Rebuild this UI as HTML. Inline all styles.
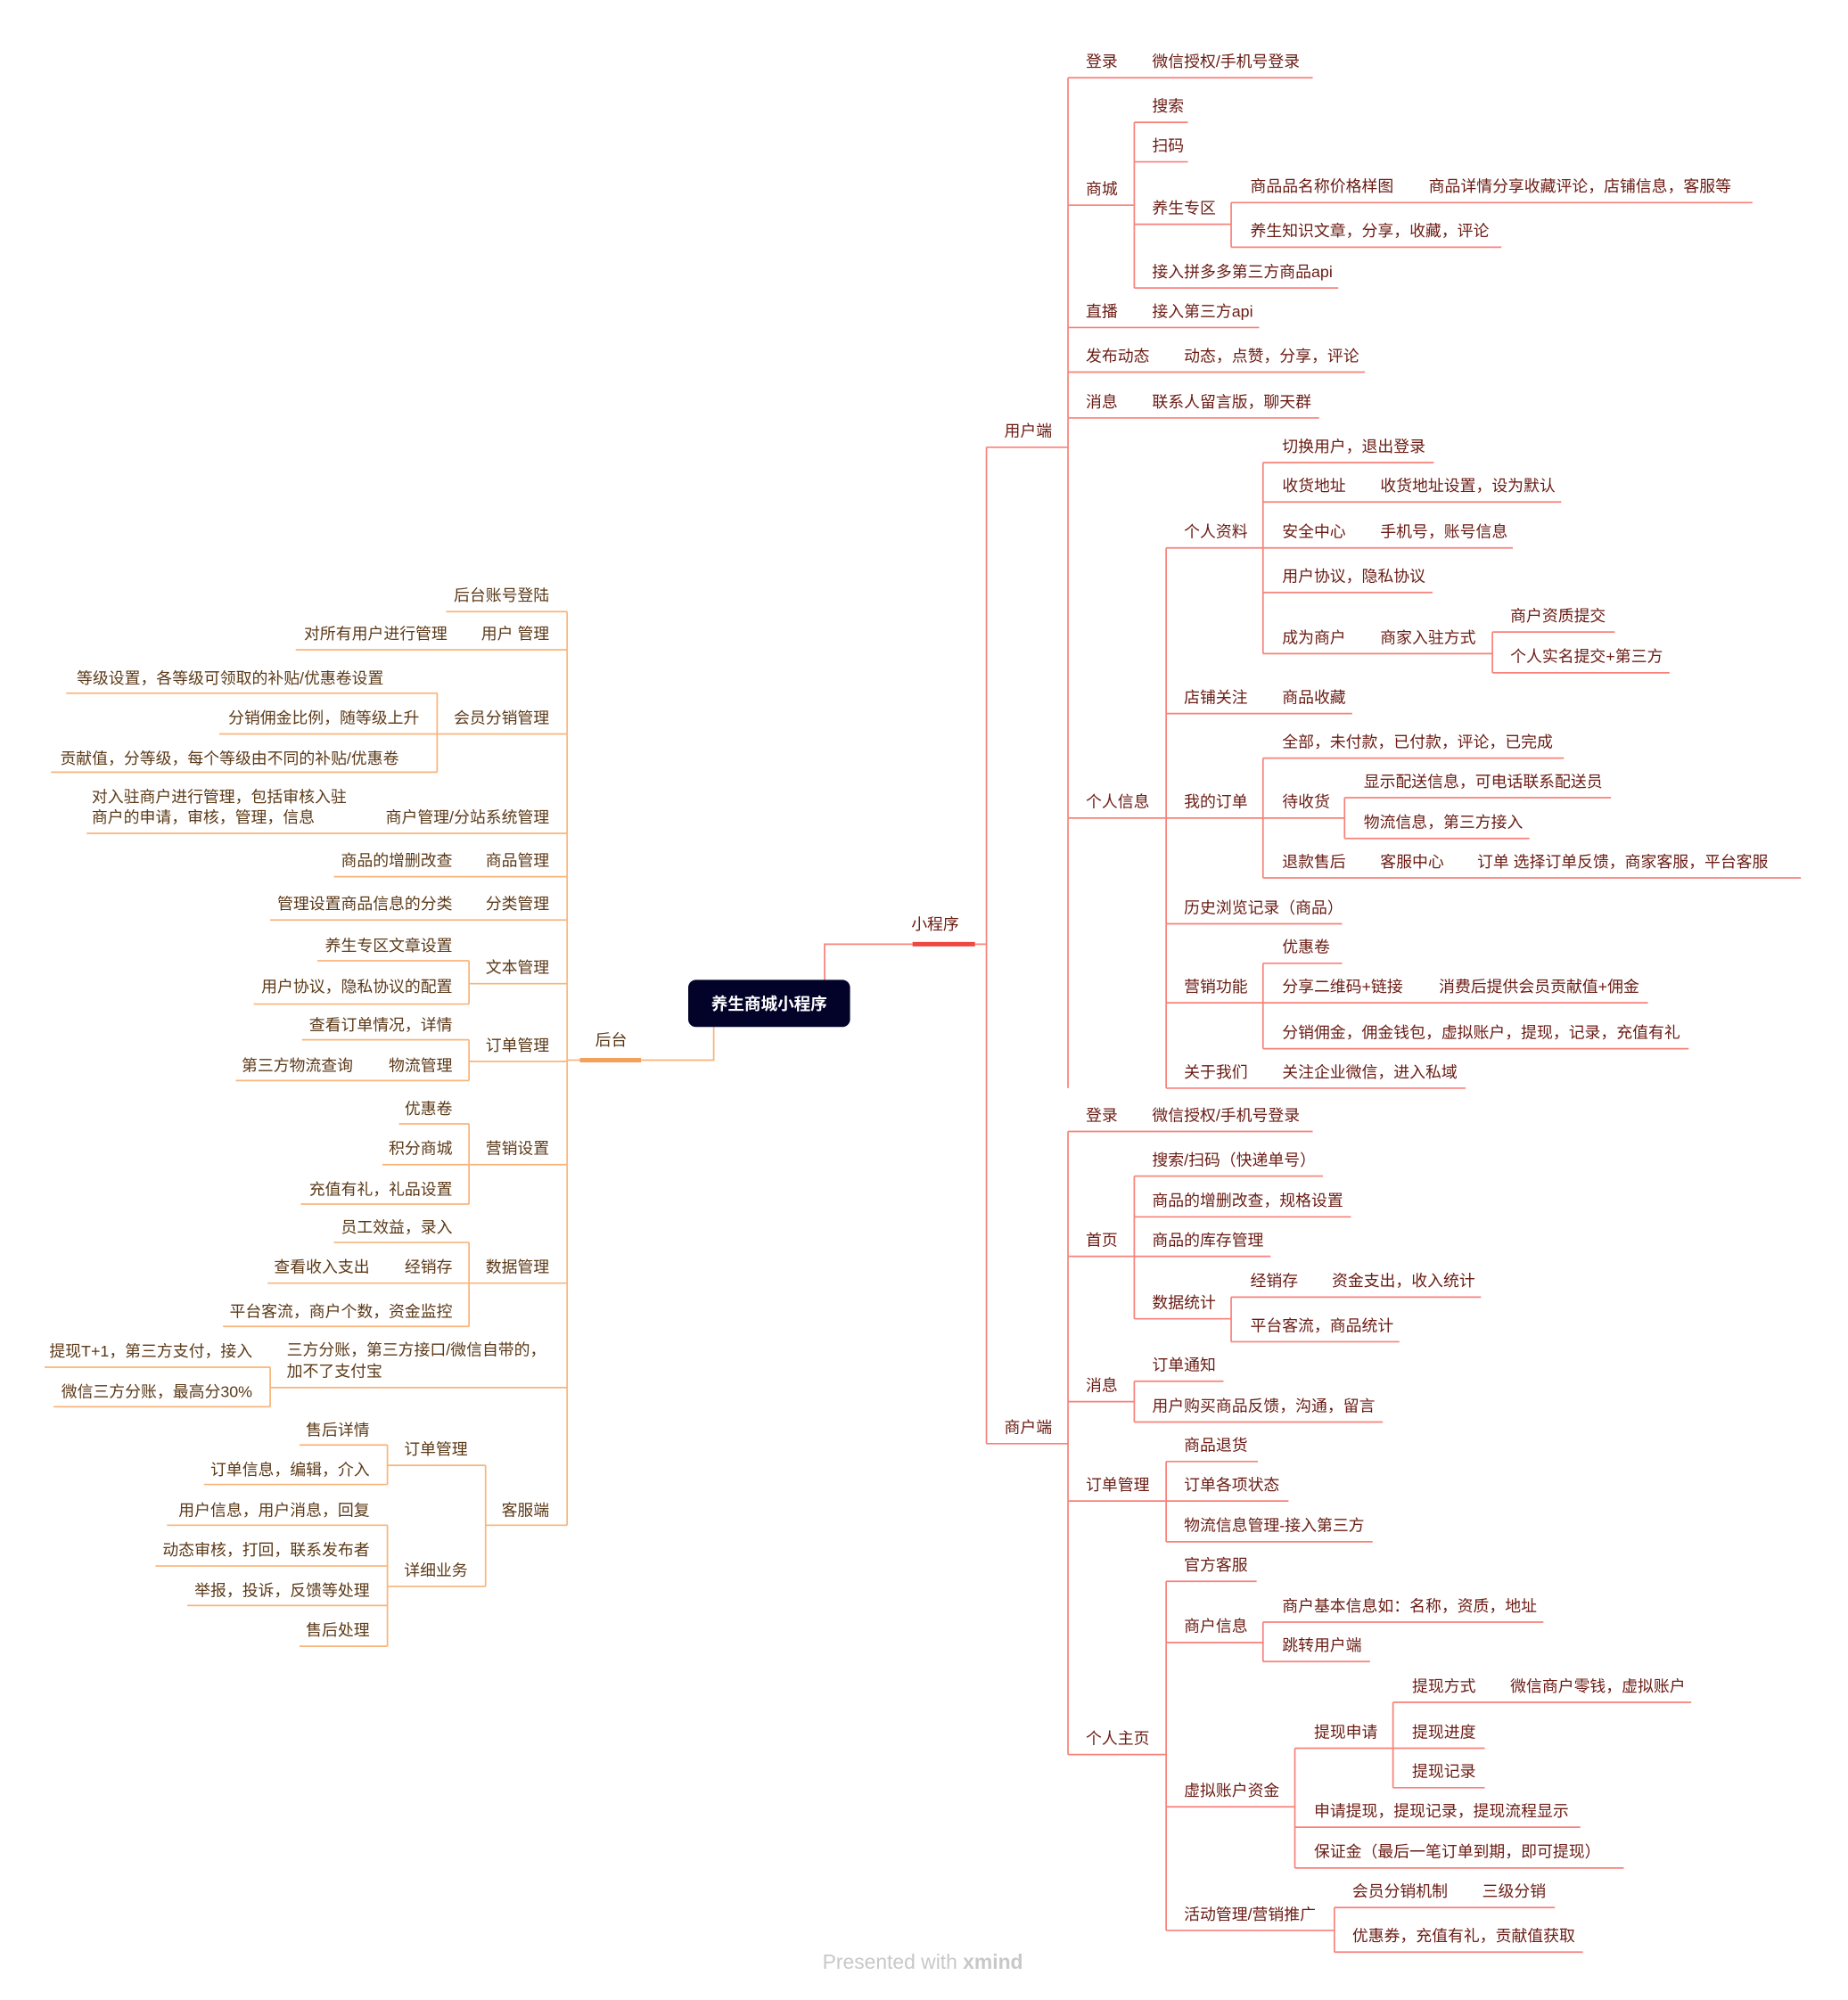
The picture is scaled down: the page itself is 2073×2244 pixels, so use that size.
<!DOCTYPE html>
<html><head><meta charset="utf-8"><style>
html,body{margin:0;padding:0;background:#fff;}
svg{display:block;}
text{font-family:"Liberation Sans","Noto Sans CJK SC",sans-serif;font-size:12.5px;}
.r line,.r path{stroke:#f8817a;stroke-width:1.2;fill:none;}
.r text{fill:#6b1c14;}
.l line,.l path{stroke:#f9b47a;stroke-width:1.2;fill:none;}
.l text{fill:#5c3a18;text-anchor:end;}
</style></head><body>
<svg width="2073" height="2244" viewBox="0 0 1450 1569.6" preserveAspectRatio="none" xmlns="http://www.w3.org/2000/svg">
<rect x="0" y="0" width="1450" height="1570" fill="#fff"/>
<!-- root -->
<path d="M647 769 V741 H716" stroke="#f8817a" stroke-width="1.2" fill="none"/>
<path d="M560 806 V832 H503" stroke="#f9b47a" stroke-width="1.2" fill="none"/>
<rect x="540" y="769" width="127" height="37" rx="6" fill="#03032a"/>
<text x="603.5" y="792.5" text-anchor="middle" fill="#fff" style="font-weight:bold;font-size:13px">养生商城小程序</text>

<g class="r">
<text x="715" y="729.5">小程序</text>
<line x1="716" y1="741" x2="765" y2="741" style="stroke:#f0473e;stroke-width:3.5"/>
<line x1="765" y1="741" x2="774" y2="741"/>
<line x1="774" y1="351" x2="774" y2="1133"/>
<!-- 用户端 -->
<text x="788" y="342.5">用户端</text>
<line x1="774" y1="351" x2="838" y2="351"/>
<line x1="838" y1="61" x2="838" y2="854"/>
<text x="852" y="52.5">登录</text><text x="904" y="52.5">微信授权/手机号登录</text>
<line x1="838" y1="61" x2="1030" y2="61"/>
<text x="852" y="152.5">商城</text>
<line x1="838" y1="161" x2="890" y2="161"/>
<line x1="890" y1="96" x2="890" y2="226"/>
<text x="904" y="87.5">搜索</text><line x1="890" y1="96" x2="932" y2="96"/>
<text x="904" y="118.5">扫码</text><line x1="890" y1="127" x2="932" y2="127"/>
<text x="904" y="167.5">养生专区</text><line x1="890" y1="176" x2="966" y2="176"/>
<line x1="966" y1="159" x2="966" y2="194"/>
<text x="981" y="150.5">商品品名称价格样图</text><text x="1121" y="150.5">商品详情分享收藏评论，店铺信息，客服等</text>
<line x1="966" y1="159" x2="1375" y2="159"/>
<text x="981" y="185.5">养生知识文章，分享，收藏，评论</text><line x1="966" y1="194" x2="1178" y2="194"/>
<text x="904" y="217.5">接入拼多多第三方商品api</text><line x1="890" y1="226" x2="1050" y2="226"/>
<text x="852" y="248.5">直播</text><text x="904" y="248.5">接入第三方api</text><line x1="838" y1="257" x2="988" y2="257"/>
<text x="852" y="283.5">发布动态</text><text x="929" y="283.5">动态，点赞，分享，评论</text><line x1="838" y1="292" x2="1071" y2="292"/>
<text x="852" y="319.5">消息</text><text x="904" y="319.5">联系人留言版，聊天群</text><line x1="838" y1="328" x2="1035" y2="328"/>
<!-- 个人信息 -->
<text x="852" y="633.5">个人信息</text><line x1="838" y1="642" x2="915" y2="642"/>
<line x1="915" y1="430" x2="915" y2="854"/>
<text x="929" y="421.5">个人资料</text><line x1="915" y1="430" x2="991" y2="430"/>
<line x1="991" y1="363" x2="991" y2="513"/>
<text x="1006" y="354.5">切换用户，退出登录</text><line x1="991" y1="363" x2="1125" y2="363"/>
<text x="1006" y="385.5">收货地址</text><text x="1083" y="385.5">收货地址设置，设为默认</text><line x1="991" y1="394" x2="1225" y2="394"/>
<text x="1006" y="421.5">安全中心</text><text x="1083" y="421.5">手机号，账号信息</text><line x1="991" y1="430" x2="1187" y2="430"/>
<text x="1006" y="456.5">用户协议，隐私协议</text><line x1="991" y1="465" x2="1124" y2="465"/>
<text x="1006" y="504.5">成为商户</text><text x="1083" y="504.5">商家入驻方式</text><line x1="991" y1="513" x2="1171" y2="513"/>
<line x1="1171" y1="496" x2="1171" y2="528"/>
<text x="1185" y="487.5">商户资质提交</text><line x1="1171" y1="496" x2="1267" y2="496"/>
<text x="1185" y="519.5">个人实名提交+第三方</text><line x1="1171" y1="528" x2="1310" y2="528"/>
<text x="929" y="551.5">店铺关注</text><text x="1006" y="551.5">商品收藏</text><line x1="915" y1="560" x2="1061" y2="560"/>
<text x="929" y="633.5">我的订单</text><line x1="915" y1="642" x2="991" y2="642"/>
<line x1="991" y1="595" x2="991" y2="689"/>
<text x="1006" y="586.5">全部，未付款，已付款，评论，已完成</text><line x1="991" y1="595" x2="1227" y2="595"/>
<text x="1006" y="633.5">待收货</text><line x1="991" y1="642" x2="1055" y2="642"/>
<line x1="1055" y1="626" x2="1055" y2="658"/>
<text x="1070" y="617.5">显示配送信息，可电话联系配送员</text><line x1="1055" y1="626" x2="1264" y2="626"/>
<text x="1070" y="649.5">物流信息，第三方接入</text><line x1="1055" y1="658" x2="1200" y2="658"/>
<text x="1006" y="680.5">退款售后</text><text x="1083" y="680.5">客服中心</text><text x="1159" y="680.5">订单 选择订单反馈，商家客服，平台客服</text>
<line x1="991" y1="689" x2="1413" y2="689"/>
<text x="929" y="716.5">历史浏览记录（商品）</text><line x1="915" y1="725" x2="1053" y2="725"/>
<text x="929" y="778.5">营销功能</text><line x1="915" y1="787" x2="991" y2="787"/>
<line x1="991" y1="756" x2="991" y2="823"/>
<text x="1006" y="747.5">优惠卷</text><line x1="991" y1="756" x2="1053" y2="756"/>
<text x="1006" y="778.5">分享二维码+链接</text><text x="1129" y="778.5">消费后提供会员贡献值+佣金</text><line x1="991" y1="787" x2="1293" y2="787"/>
<text x="1006" y="814.5">分销佣金，佣金钱包，虚拟账户，提现，记录，充值有礼</text><line x1="991" y1="823" x2="1325" y2="823"/>
<text x="929" y="845.5">关于我们</text><text x="1006" y="845.5">关注企业微信，进入私域</text><line x1="915" y1="854" x2="1150" y2="854"/>
<!-- 商户端 -->
<text x="788" y="1124.5">商户端</text><line x1="774" y1="1133" x2="838" y2="1133"/>
<line x1="838" y1="888" x2="838" y2="1377"/>
<text x="852" y="879.5">登录</text><text x="904" y="879.5">微信授权/手机号登录</text><line x1="838" y1="888" x2="1030" y2="888"/>
<text x="852" y="977.5">首页</text><line x1="838" y1="986" x2="890" y2="986"/>
<line x1="890" y1="923" x2="890" y2="1035"/>
<text x="904" y="914.5">搜索/扫码（快递单号）</text><line x1="890" y1="923" x2="1038" y2="923"/>
<text x="904" y="946.5">商品的增删改查，规格设置</text><line x1="890" y1="955" x2="1060" y2="955"/>
<text x="904" y="977.5">商品的库存管理</text><line x1="890" y1="986" x2="997" y2="986"/>
<text x="904" y="1026.5">数据统计</text><line x1="890" y1="1035" x2="966" y2="1035"/>
<line x1="966" y1="1018" x2="966" y2="1053"/>
<text x="981" y="1009.5">经销存</text><text x="1045" y="1009.5">资金支出，收入统计</text><line x1="966" y1="1018" x2="1162" y2="1018"/>
<text x="981" y="1044.5">平台客流，商品统计</text><line x1="966" y1="1053" x2="1098" y2="1053"/>
<text x="852" y="1091.5">消息</text><line x1="838" y1="1100" x2="890" y2="1100"/>
<line x1="890" y1="1084" x2="890" y2="1116"/>
<text x="904" y="1075.5">订单通知</text><line x1="890" y1="1084" x2="960" y2="1084"/>
<text x="904" y="1107.5">用户购买商品反馈，沟通，留言</text><line x1="890" y1="1116" x2="1085" y2="1116"/>
<text x="852" y="1169.5">订单管理</text><line x1="838" y1="1178" x2="915" y2="1178"/>
<line x1="915" y1="1147" x2="915" y2="1210"/>
<text x="929" y="1138.5">商品退货</text><line x1="915" y1="1147" x2="987" y2="1147"/>
<text x="929" y="1169.5">订单各项状态</text><line x1="915" y1="1178" x2="1011" y2="1178"/>
<text x="929" y="1201.5">物流信息管理-接入第三方</text><line x1="915" y1="1210" x2="1077" y2="1210"/>
<text x="852" y="1368.5">个人主页</text><line x1="838" y1="1377" x2="915" y2="1377"/>
<line x1="915" y1="1241" x2="915" y2="1515"/>
<text x="929" y="1232.5">官方客服</text><line x1="915" y1="1241" x2="986" y2="1241"/>
<text x="929" y="1280.5">商户信息</text><line x1="915" y1="1289" x2="991" y2="1289"/>
<line x1="991" y1="1273" x2="991" y2="1304"/>
<text x="1006" y="1264.5">商户基本信息如：名称，资质，地址</text><line x1="991" y1="1273" x2="1211" y2="1273"/>
<text x="1006" y="1295.5">跳转用户端</text><line x1="991" y1="1304" x2="1075" y2="1304"/>
<text x="929" y="1409.5">虚拟账户资金</text><line x1="915" y1="1418" x2="1016" y2="1418"/>
<line x1="1016" y1="1372" x2="1016" y2="1466"/>
<text x="1031" y="1363.5">提现申请</text><line x1="1016" y1="1372" x2="1093" y2="1372"/>
<line x1="1093" y1="1336" x2="1093" y2="1403"/>
<text x="1108" y="1327.5">提现方式</text><text x="1185" y="1327.5">微信商户零钱，虚拟账户</text><line x1="1093" y1="1336" x2="1327" y2="1336"/>
<text x="1108" y="1363.5">提现进度</text><line x1="1093" y1="1372" x2="1165" y2="1372"/>
<text x="1108" y="1394.5">提现记录</text><line x1="1093" y1="1403" x2="1165" y2="1403"/>
<text x="1031" y="1425.5">申请提现，提现记录，提现流程显示</text><line x1="1016" y1="1434" x2="1240" y2="1434"/>
<text x="1031" y="1457.5">保证金（最后一笔订单到期，即可提现）</text><line x1="1016" y1="1466" x2="1274" y2="1466"/>
<text x="929" y="1506.5">活动管理/营销推广</text><line x1="915" y1="1515" x2="1047" y2="1515"/>
<line x1="1047" y1="1497" x2="1047" y2="1532"/>
<text x="1061" y="1488.5">会员分销机制</text><text x="1163" y="1488.5">三级分销</text><line x1="1047" y1="1497" x2="1220" y2="1497"/>
<text x="1061" y="1523.5">优惠券，充值有礼，贡献值获取</text><line x1="1047" y1="1532" x2="1242" y2="1532"/>
</g>

<g class="l">
<text x="492" y="820.5">后台</text>
<line x1="455" y1="832" x2="503" y2="832" style="stroke:#f5a05a;stroke-width:3.5"/>
<line x1="445" y1="832" x2="455" y2="832"/>
<line x1="445" y1="480" x2="445" y2="1197"/>
<text x="431" y="471.5">后台账号登陆</text><line x1="350" y1="480" x2="445" y2="480"/>
<text x="431" y="501.5">用户 管理</text><text x="351" y="501.5">对所有用户进行管理</text><line x1="232" y1="510" x2="445" y2="510"/>
<text x="431" y="567.5">会员分销管理</text><line x1="343" y1="576" x2="445" y2="576"/>
<line x1="343" y1="544" x2="343" y2="606"/>
<text x="301" y="536.5">等级设置，各等级可领取的补贴/优惠卷设置</text><line x1="52" y1="544" x2="343" y2="544"/>
<text x="329" y="567.5">分销佣金比例，随等级上升</text><line x1="172" y1="576" x2="343" y2="576"/>
<text x="313" y="599.5">贡献值，分等级，每个等级由不同的补贴/优惠卷</text><line x1="40" y1="606" x2="343" y2="606"/>
<text x="431" y="645.5">商户管理/分站系统管理</text>
<text x="72" y="629.5" style="text-anchor:start">对入驻商户进行管理，包括审核入驻</text>
<text x="72" y="645.5" style="text-anchor:start">商户的申请，审核，管理，信息</text>
<line x1="68" y1="654" x2="445" y2="654"/>
<text x="431" y="679.5">商品管理</text><text x="355" y="679.5">商品的增删改查</text><line x1="262" y1="688" x2="445" y2="688"/>
<text x="431" y="713.5">分类管理</text><text x="355" y="713.5">管理设置商品信息的分类</text><line x1="212" y1="722" x2="445" y2="722"/>
<text x="431" y="763.5">文本管理</text><line x1="368" y1="772" x2="445" y2="772"/>
<line x1="368" y1="754" x2="368" y2="788"/>
<text x="355" y="746.5">养生专区文章设置</text><line x1="249" y1="754" x2="368" y2="754"/>
<text x="355" y="778.5">用户协议，隐私协议的配置</text><line x1="199" y1="788" x2="368" y2="788"/>
<text x="431" y="824.5">订单管理</text><line x1="368" y1="833" x2="445" y2="833"/>
<line x1="368" y1="816" x2="368" y2="848"/>
<text x="355" y="808.5">查看订单情况，详情</text><line x1="237" y1="816" x2="368" y2="816"/>
<text x="355" y="840.5">物流管理</text><text x="277" y="840.5">第三方物流查询</text><line x1="185" y1="848" x2="368" y2="848"/>
<text x="431" y="905.5">营销设置</text><line x1="368" y1="914" x2="445" y2="914"/>
<line x1="368" y1="882" x2="368" y2="945"/>
<text x="355" y="874.5">优惠卷</text><line x1="313" y1="882" x2="368" y2="882"/>
<text x="355" y="905.5">积分商城</text><line x1="300" y1="914" x2="368" y2="914"/>
<text x="355" y="937.5">充值有礼，礼品设置</text><line x1="236" y1="945" x2="368" y2="945"/>
<text x="431" y="998.5">数据管理</text><line x1="368" y1="1007" x2="445" y2="1007"/>
<line x1="368" y1="975" x2="368" y2="1041"/>
<text x="355" y="967.5">员工效益，录入</text><line x1="262" y1="975" x2="368" y2="975"/>
<text x="355" y="998.5">经销存</text><text x="290" y="998.5">查看收入支出</text><line x1="210" y1="1007" x2="368" y2="1007"/>
<text x="355" y="1033.5">平台客流，商户个数，资金监控</text><line x1="175" y1="1041" x2="368" y2="1041"/>
<text x="225" y="1063.5" style="text-anchor:start">三方分账，第三方接口/微信自带的，</text>
<text x="225" y="1080.5" style="text-anchor:start">加不了支付宝</text>
<line x1="212" y1="1089" x2="445" y2="1089"/>
<line x1="212" y1="1073" x2="212" y2="1104"/>
<text x="198" y="1064.5">提现T+1，第三方支付，接入</text><line x1="35" y1="1073" x2="212" y2="1073"/>
<text x="198" y="1096.5">微信三方分账，最高分30%</text><line x1="42" y1="1104" x2="212" y2="1104"/>
<text x="431" y="1189.5">客服端</text><line x1="381" y1="1197" x2="445" y2="1197"/>
<line x1="381" y1="1150" x2="381" y2="1245"/>
<text x="367" y="1141.5">订单管理</text><line x1="304" y1="1150" x2="381" y2="1150"/>
<line x1="304" y1="1134" x2="304" y2="1165"/>
<text x="290" y="1126.5">售后详情</text><line x1="235" y1="1134" x2="304" y2="1134"/>
<text x="290" y="1157.5">订单信息，编辑，介入</text><line x1="160" y1="1165" x2="304" y2="1165"/>
<text x="367" y="1236.5">详细业务</text><line x1="304" y1="1245" x2="381" y2="1245"/>
<line x1="304" y1="1197" x2="304" y2="1292"/>
<text x="290" y="1189.5">用户信息，用户消息，回复</text><line x1="131" y1="1197" x2="304" y2="1197"/>
<text x="290" y="1220.5">动态审核，打回，联系发布者</text><line x1="122" y1="1229" x2="304" y2="1229"/>
<text x="290" y="1252.5">举报，投诉，反馈等处理</text><line x1="147" y1="1260" x2="304" y2="1260"/>
<text x="290" y="1283.5">售后处理</text><line x1="235" y1="1292" x2="304" y2="1292"/>
</g>

<text x="724" y="1545" text-anchor="middle" fill="#c8c8c8" style="font-size:16px">Presented with <tspan style="font-weight:bold">xmind</tspan></text>
</svg>
</body></html>
